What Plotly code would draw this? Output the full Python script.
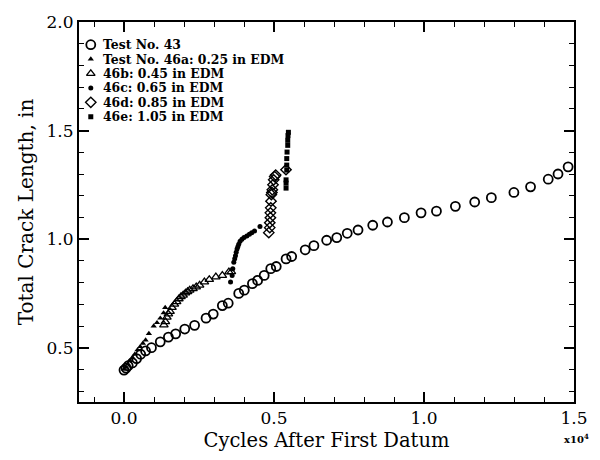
import plotly.graph_objects as go

# ---------------- data ----------------
t43_x = [0, 70, 140, 280, 420, 556, 719, 915, 1209, 1480, 1722, 2026, 2353, 2735, 2974,
         3278, 3474, 3824, 4010, 4281, 4454, 4673, 4892, 5075, 5402, 5588, 6040, 6330, 6755, 7092,
         7441, 7801, 8291, 8781, 9346, 9902, 10415, 11046, 11690, 12245, 12997, 13552, 14141, 14467, 14804]
t43_y = [0.397, 0.406, 0.417, 0.43, 0.45, 0.470, 0.485, 0.500, 0.527, 0.549, 0.564, 0.586, 0.603, 0.636, 0.655,
         0.694, 0.705, 0.750, 0.765, 0.795, 0.810, 0.833, 0.864, 0.874, 0.909, 0.920, 0.951, 0.970, 0.995, 1.007,
         1.027, 1.042, 1.064, 1.079, 1.099, 1.121, 1.129, 1.151, 1.171, 1.191, 1.215, 1.241, 1.276, 1.300, 1.333]

t46a_x = [0, 60, 130, 200, 280, 360, 450, 540, 630, 720, 830, 990, 1100, 1210, 1320, 1373]
t46a_y = [0.40, 0.41, 0.425, 0.44, 0.455, 0.47, 0.49, 0.505, 0.52, 0.535, 0.565, 0.60, 0.615, 0.636, 0.66, 0.685]

t46b_x = [1330, 1380, 1430, 1480, 1536, 1600, 1680, 1755, 1830, 1900, 1971, 2050, 2120, 2190, 2300,
          2408, 2520, 2680, 2843, 3062, 3278, 3497, 3580]
t46b_y = [0.605, 0.62, 0.64, 0.655, 0.667, 0.685, 0.70, 0.712, 0.725, 0.735, 0.742, 0.752, 0.758, 0.765, 0.772,
          0.780, 0.788, 0.803, 0.814, 0.826, 0.833, 0.849, 0.85]

t46c_x = [3552, 3605, 3627, 3660, 3690, 3716, 3740, 3768, 3795, 3824, 3870, 3931, 4000, 4094, 4180, 4258, 4350, 4533]
t46c_y = [0.803, 0.833, 0.864, 0.894, 0.91, 0.924, 0.94, 0.955, 0.965, 0.977, 0.99, 1.0, 1.008, 1.015, 1.022, 1.03, 1.038, 1.058]

t46d_x = [4827, 4859, 4859, 4880, 4880, 4892, 4900, 4912, 4930, 4944, 4967, 4990, 5023, 5056, 5400]
t46d_y = [1.030, 1.053, 1.076, 1.099, 1.121, 1.144, 1.175, 1.205, 1.215, 1.227, 1.25, 1.273, 1.288, 1.295, 1.32]

t46e_x = [5402, 5402, 5402, 5425, 5425, 5425, 5435, 5458, 5458, 5467, 5480]
t46e_y = [1.235, 1.258, 1.273, 1.318, 1.341, 1.371, 1.401, 1.432, 1.455, 1.477, 1.492]

legend_labels = ["Test No. 43", "Test No. 46a: 0.25 in EDM", "46b: 0.45 in EDM",
                 "46c: 0.65 in EDM", "46d: 0.85 in EDM", "46e: 1.05 in EDM"]

x_tickvals = [0, 5000, 10000, 15000]
x_ticktext = ["0.0", "0.5", "1.0", "1.5"]
y_tickvals = [0.5, 1.0, 1.5, 2.0]
y_ticktext = ["0.5", "1.0", "1.5", "2.0"]

# ---------------- styles ----------------
FONT = "DejaVu Serif"
styles = [
    dict(symbol="circle-open", size=9, line=dict(width=1.8, color="black"), color="black"),
    dict(symbol="triangle-up", size=5.5, color="black"),
    dict(symbol="triangle-up-open", size=7.5, line=dict(width=1.3, color="black"), color="black"),
    dict(symbol="circle", size=5, color="black"),
    dict(symbol="diamond-open", size=8, line=dict(width=1.4, color="black"), color="black"),
    dict(symbol="square", size=5, color="black"),
]
series = [(t43_x, t43_y), (t46a_x, t46a_y), (t46b_x, t46b_y),
          (t46c_x, t46c_y), (t46d_x, t46d_y), (t46e_x, t46e_y)]

fig = go.Figure()
for (sx, sy), st, name in zip(series, styles, legend_labels):
    fig.add_trace(go.Scatter(x=sx, y=sy, mode="markers", marker=st, name=name,
                             showlegend=False, cliponaxis=False))

# manual legend on an overlay axis in pixel-like units
L, R, T, B = 79, 583, 20, 405
row0, rowgap = 43, 14.6
leg_x = 91
for i, (st, name) in enumerate(zip(styles, legend_labels)):
    yy = row0 + i * rowgap
    fig.add_trace(go.Scatter(x=[leg_x], y=[yy], mode="markers", marker=st,
                             xaxis="x2", yaxis="y2", showlegend=False, hoverinfo="skip"))
    fig.add_annotation(x=leg_x + 11, y=yy, xref="x2", yref="y2", text="<b>" + name + "</b>",
                       showarrow=False, xanchor="left", yanchor="middle", borderpad=0,
                       font=dict(family=FONT, size=12.4, color="black"))

axis_common = dict(showgrid=False, zeroline=False, showline=True, linecolor="black", linewidth=2,
                   mirror="allticks", ticks="inside", ticklen=10, tickwidth=1.5, tickcolor="black",
                   tickfont=dict(family=FONT, size=17, color="black"))

fig.update_layout(
    width=600, height=460,
    margin=dict(l=L, r=600 - R, t=T, b=460 - B),
    paper_bgcolor="white", plot_bgcolor="white",
    showlegend=False,
    xaxis=dict(range=[-1500, 15000], tickvals=x_tickvals, ticktext=x_ticktext,
               minor=dict(dtick=1000, tick0=0, ticks="inside", ticklen=5, tickwidth=1.2, tickcolor="black"),
               title=dict(text="Cycles After First Datum", standoff=6,
                          font=dict(family=FONT, size=19.5, color="black")),
               **axis_common),
    yaxis=dict(range=[0.25, 2.0], tickvals=y_tickvals, ticktext=y_ticktext,
               minor=dict(dtick=0.1, tick0=0, ticks="inside", ticklen=5, tickwidth=1.2, tickcolor="black"),
               title=dict(text="Total Crack Length, in", standoff=8,
                          font=dict(family=FONT, size=20, color="black")),
               **axis_common),
    xaxis2=dict(range=[L, R], overlaying="x", visible=False, fixedrange=True),
    yaxis2=dict(range=[B, T], overlaying="y", visible=False, fixedrange=True, anchor="x2"),
)

fig.add_annotation(x=1.0, y=0, xref="paper", yref="paper", yshift=-29, xshift=16,
                   text="<b>x10<sup>4</sup></b>", showarrow=False, xanchor="right", yanchor="top",
                   borderpad=0, font=dict(family=FONT, size=10, color="black"))

fig.write_html("out.html")
